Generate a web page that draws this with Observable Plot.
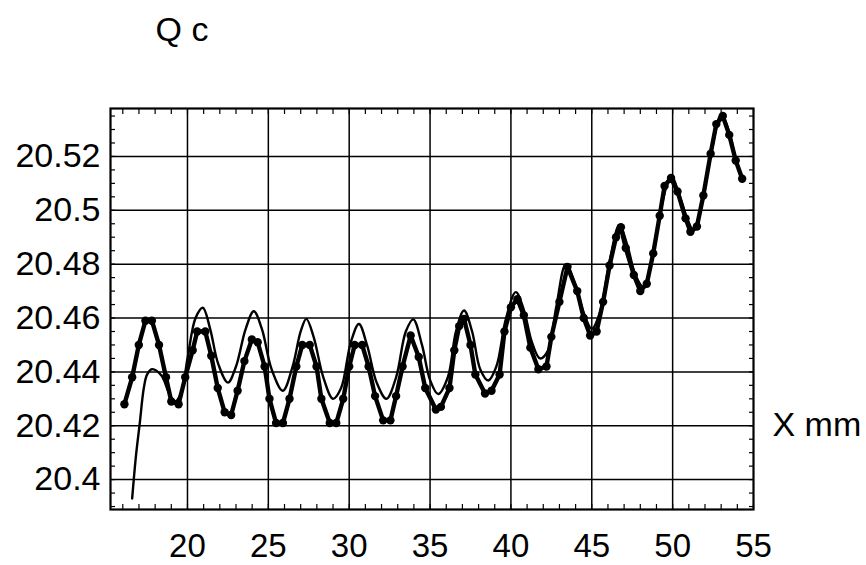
<!DOCTYPE html>
<html>
<head>
<meta charset="utf-8">
<script src="https://cdn.jsdelivr.net/npm/d3@7"></script>
<script src="https://cdn.jsdelivr.net/npm/@observablehq/plot@0.6"></script>
<style>
  html, body { margin: 0; padding: 0; background: #fff; }
  #chart svg { display: block; }
</style>
</head>
<body>
<div id="chart"></div>
<script>
// Measured series (dots): X mm, Q c
const measuredX = [16.1,16.58,16.99,17.4,17.8,18.24,18.67,19.0,19.45,19.86,20.32,20.6,21.1,21.47,21.87,22.3,22.7,23.1,23.52,23.98,24.34,24.77,25.07,25.48,25.9,26.31,26.73,27.1,27.56,27.98,28.28,28.8,29.2,29.63,30.0,30.34,30.8,31.2,31.6,32.1,32.55,32.9,33.3,33.8,34.3,34.7,35.36,35.67,36.2,36.5,36.8,37.1,37.5,37.8,38.4,38.8,39.3,39.6,40.0,40.4,40.8,41.2,41.7,42.2,42.5,43.0,43.5,44.1,44.5,44.9,45.3,45.7,46.1,46.5,46.8,47.1,47.6,48.0,48.4,48.8,49.2,49.5,49.9,50.3,50.8,51.1,51.5,51.9,52.35,52.7,53.1,53.5,53.9,54.3];
const measuredQ = [20.428,20.438,20.450,20.459,20.459,20.450,20.438,20.429,20.428,20.438,20.448,20.455,20.455,20.446,20.434,20.425,20.424,20.433,20.444,20.452,20.451,20.442,20.430,20.421,20.421,20.430,20.442,20.450,20.450,20.442,20.430,20.421,20.421,20.430,20.442,20.450,20.450,20.442,20.431,20.422,20.422,20.431,20.442,20.4535,20.4455,20.434,20.426,20.427,20.434,20.448,20.457,20.4597,20.450,20.439,20.432,20.433,20.439,20.455,20.464,20.467,20.461,20.449,20.441,20.442,20.453,20.466,20.479,20.470,20.460,20.4535,20.455,20.466,20.4795,20.490,20.4937,20.486,20.476,20.470,20.4727,20.484,20.498,20.509,20.512,20.507,20.497,20.492,20.494,20.5055,20.521,20.532,20.535,20.528,20.5185,20.5117];

// Computed series (thin line)
const modelX = [16.58,16.8,17.05,17.3,17.5,17.8,18.4,18.8,19.2,19.6,20.0,20.5,20.95,21.4,21.9,22.5,23.0,23.6,24.1,24.6,25.2,25.9,26.5,27.0,27.35,27.8,28.4,29.0,29.5,30.1,30.6,31.1,31.7,32.3,32.9,33.5,33.96,34.5,35.0,35.5,36.1,36.6,37.1,37.6,38.1,38.6,39.1,39.7,40.3,40.8,41.3,41.8,42.3,42.8,43.4,44.0,44.5,45.0,45.5,46.1,46.7,47.2,47.7,48.2,48.7,49.3,49.9,50.4,50.9,51.3,51.8,52.4,53.0,53.5,53.9,54.3];
const modelQ = [20.393,20.408,20.421,20.434,20.439,20.441,20.4386,20.433,20.429,20.432,20.445,20.460,20.4638,20.456,20.443,20.436,20.442,20.456,20.4625,20.456,20.441,20.433,20.442,20.455,20.4597,20.453,20.438,20.430,20.434,20.451,20.4578,20.450,20.436,20.430,20.438,20.455,20.4595,20.450,20.437,20.4318,20.438,20.455,20.4628,20.455,20.441,20.4368,20.442,20.460,20.4696,20.463,20.451,20.445,20.448,20.464,20.480,20.472,20.462,20.456,20.462,20.481,20.4945,20.487,20.476,20.4715,20.481,20.501,20.5128,20.506,20.497,20.4925,20.503,20.522,20.5355,20.529,20.519,20.5117];

const xTicks = [20, 25, 30, 35, 40, 45, 50, 55];
const yTicks = [20.4, 20.42, 20.44, 20.46, 20.48, 20.5, 20.52];
const xMinor = d3.range(16, 56, 1);
const yMinor = d3.range(20.39, 20.538, 0.005).map(v => +v.toFixed(3));
const yTitle = "Q c";
const xTitle = "X mm";

const measured = measuredX.map((x, i) => ({x, q: measuredQ[i]}));
const model = modelX.map((x, i) => ({x, q: modelQ[i]}));

const font = "'Liberation Sans', Arial, Helvetica, sans-serif";

const chart = Plot.plot({
  width: 866,
  height: 565,
  marginLeft: 110,
  marginRight: 113,
  marginTop: 108,
  marginBottom: 56,
  style: {fontFamily: font, fontSize: "34px", color: "#000", background: "#fff"},
  x: {domain: [15.24, 55]},
  y: {domain: [20.3889, 20.5378]},
  marks: [
    Plot.gridX(xTicks.slice(0, -1), {stroke: "#000", strokeOpacity: 1, strokeWidth: 1.5}),
    Plot.gridY(yTicks, {stroke: "#000", strokeOpacity: 1, strokeWidth: 1.5}),
    Plot.axisX(xMinor, {anchor: "bottom", tickSize: 5, dy: -5, tickFormat: () => "", label: null, strokeWidth: 1.2}),
    Plot.axisX(xMinor, {anchor: "top", tickSize: 5, dy: 5, tickFormat: () => "", label: null, strokeWidth: 1.2}),
    Plot.axisY(yMinor, {anchor: "left", tickSize: 5, dx: 5, tickFormat: () => "", label: null, strokeWidth: 1.2}),
    Plot.axisY(yMinor, {anchor: "right", tickSize: 5, dx: -5, tickFormat: () => "", label: null, strokeWidth: 1.2}),
    Plot.axisX(xTicks, {anchor: "bottom", tickSize: 0, tickPadding: 24, label: null, fontSize: 33}),
    Plot.axisY(yTicks, {anchor: "left", tickSize: 0, tickPadding: 10, label: null, fontSize: 34,
      tickFormat: d => String(+d.toFixed(2))}),
    Plot.frame({stroke: "#000", strokeWidth: 2.2}),
    Plot.line(model, {x: "x", y: "q", stroke: "#000", strokeWidth: 2.4, curve: "catmull-rom"}),
    Plot.line(measured, {x: "x", y: "q", stroke: "#000", strokeWidth: 4.4}),
    Plot.dot(measured, {x: "x", y: "q", r: 4.2, fill: "#000"}),
    Plot.text([yTitle], {frameAnchor: "top-left", text: d => d, dx: 45, dy: -78, textAnchor: "start", lineAnchor: "middle", fontSize: 34}),
    Plot.text([xTitle], {frameAnchor: "top-right", text: d => d, dx: 19, dy: 317, textAnchor: "start", lineAnchor: "middle", fontSize: 34})
  ]
});
document.getElementById("chart").appendChild(chart);
</script>
</body>
</html>
